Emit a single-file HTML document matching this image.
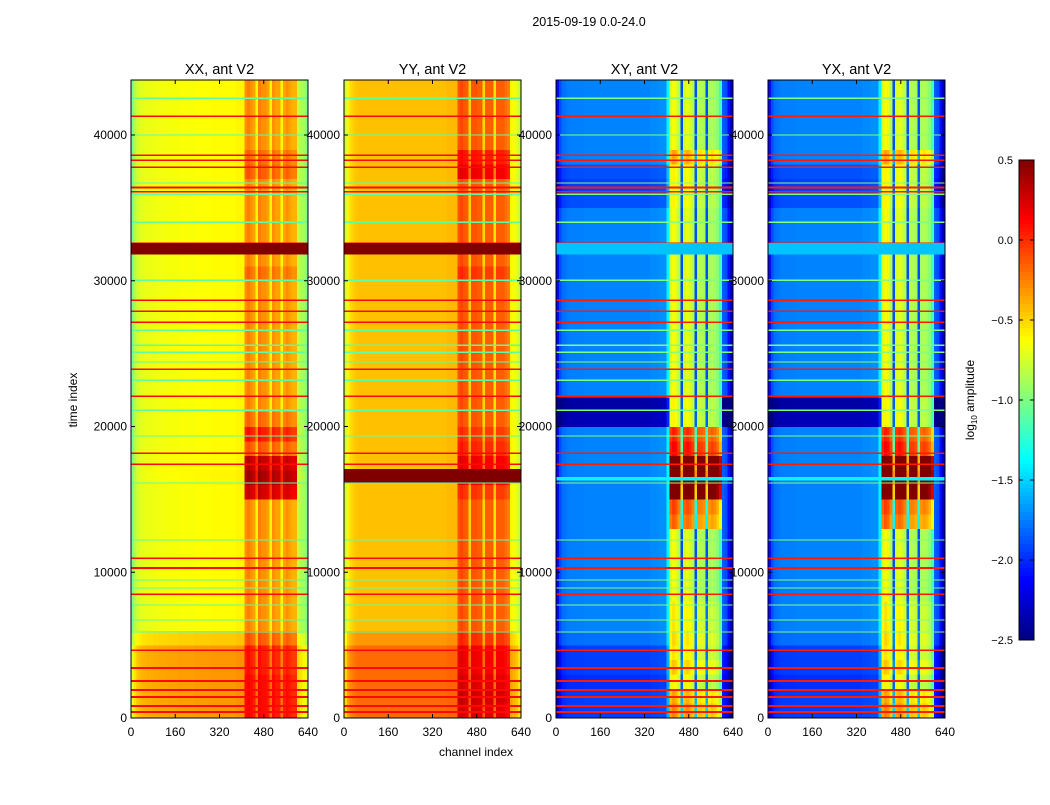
<!DOCTYPE html>
<html><head><meta charset="utf-8">
<style>
body{margin:0;background:#fff;}
svg text{font-family:"Liberation Sans","DejaVu Sans",sans-serif;fill:#000;}
</style></head>
<body>
<svg id="fig" width="1050" height="800" xmlns="http://www.w3.org/2000/svg">
<rect width="1050" height="800" fill="#fff"/>
<text x="589" y="26" font-size="12.5" text-anchor="middle">2015-09-19 0.0-24.0</text>
<text x="0" y="0" font-size="12" text-anchor="middle" transform="translate(77,400) rotate(-90)">time index</text>
<text x="476" y="756" font-size="12" text-anchor="middle">channel index</text>
<g id="panels"></g>
<g id="cbar"></g>
<text font-size="12" text-anchor="middle" transform="translate(974,400) rotate(-90)">log<tspan font-size="8" dy="3">10</tspan><tspan dy="-3"> amplitude</tspan></text>
</svg>
<script>
// ---- data (log10 amplitude) ----
const panelTitles = ["XX, ant V2","YY, ant V2","XY, ant V2","YX, ant V2"];
const xTicks = [0,160,320,480,640];
const yTicks = [0,10000,20000,30000,40000];
const cbTicks = [0.5,0.0,-0.5,-1.0,-1.5,-2.0,-2.5];
const cbLabels = ["0.5","0.0","\u22120.5","\u22121.0","\u22121.5","\u22122.0","\u22122.5"];
// channel profiles: 64 bins of 10 channels
const chanXX = [-1.0,-0.85,-0.75,-0.72,-0.7,-0.69,-0.68,-0.68,-0.67,-0.67,-0.66,-0.66,-0.66,-0.65,-0.65,-0.65,-0.65,-0.64,-0.64,-0.64,-0.64,-0.64,-0.64,-0.63,-0.63,-0.63,-0.63,-0.63,-0.63,-0.62,-0.62,-0.62,-0.62,-0.62,-0.62,-0.62,-0.62,-0.62,-0.6,-0.6,-0.6,-0.3,-0.25,-0.3,-0.35,-0.6,-0.25,-0.3,-0.3,-0.35,-0.6,-0.3,-0.35,-0.35,-0.62,-0.35,-0.3,-0.35,-0.4,-0.4,-0.8,-0.85,-0.9,-1.0];
const chanYY = [-0.75,-0.6,-0.52,-0.48,-0.45,-0.44,-0.44,-0.44,-0.44,-0.44,-0.44,-0.44,-0.44,-0.44,-0.44,-0.44,-0.44,-0.44,-0.44,-0.44,-0.44,-0.44,-0.44,-0.44,-0.44,-0.44,-0.44,-0.44,-0.44,-0.44,-0.44,-0.44,-0.44,-0.44,-0.44,-0.44,-0.44,-0.42,-0.42,-0.42,-0.42,-0.12,-0.08,-0.12,-0.15,-0.5,-0.12,-0.12,-0.15,-0.15,-0.5,-0.15,-0.15,-0.15,-0.55,-0.15,-0.15,-0.15,-0.2,-0.25,-0.6,-0.65,-0.7,-0.8];
const chanXY = [-2.1,-1.9,-1.8,-1.78,-1.76,-1.75,-1.75,-1.75,-1.75,-1.75,-1.74,-1.74,-1.74,-1.74,-1.74,-1.74,-1.74,-1.74,-1.74,-1.74,-1.74,-1.74,-1.74,-1.74,-1.74,-1.74,-1.74,-1.74,-1.74,-1.74,-1.74,-1.74,-1.74,-1.74,-1.72,-1.72,-1.72,-1.7,-1.7,-1.7,-1.4,-0.75,-0.65,-0.7,-0.85,-1.9,-0.75,-0.7,-0.75,-0.85,-1.9,-0.85,-0.85,-0.9,-1.9,-0.9,-0.85,-0.9,-1.0,-1.2,-1.85,-1.9,-2.1,-2.3];
const chanYX = [-2.1,-1.9,-1.8,-1.78,-1.76,-1.75,-1.75,-1.75,-1.75,-1.75,-1.74,-1.74,-1.74,-1.74,-1.74,-1.74,-1.74,-1.74,-1.74,-1.74,-1.74,-1.74,-1.74,-1.74,-1.74,-1.74,-1.74,-1.74,-1.74,-1.74,-1.74,-1.74,-1.74,-1.74,-1.72,-1.72,-1.72,-1.7,-1.7,-1.7,-1.4,-0.75,-0.65,-0.7,-0.85,-1.9,-0.75,-0.7,-0.75,-0.85,-1.9,-0.85,-0.85,-0.9,-1.9,-0.9,-0.85,-0.9,-1.0,-1.2,-1.85,-1.9,-2.1,-2.3];
// time offsets: 44 bins of 1000 samples
const timeXX = [0.3,0.3,0.3,0.3,0.3,0.15,0,0,0,0,0,0,0,0,0,0,0.02,0,0,0,0,0,0,0,0,0,0,0,0,0,0,0,0,0,0,0,0,0,0,0,0,0,0,0];
const timeYY = [0.25,0.25,0.25,0.25,0.25,0.12,0,0,0,0,0,0,0,0,0,0,0,0,0,0,0,0,0,0,0,0,0,0,0,0,0,0,0,0,0,0,0,0,0,0,0,0,0,0];
const timeXY = [-0.2,-0.2,-0.25,-0.2,-0.2,-0.05,0,0,0,0,0,0,0,0,0,0,0,0,0,0,-0.6,-0.65,0,0,0,0,0,0,0,0,0,0,0,0,0,-0.15,-0.2,-0.15,0,0,0,0,0,0];
const timeYX = [-0.2,-0.2,-0.25,-0.2,-0.2,-0.05,0,0,0,0,0,0,0,0,0,0,0,0,0,0,-0.6,-0.65,0,0,0,0,0,0,0,0,0,0,0,0,0,-0.15,-0.2,-0.15,0,0,0,0,0,0];
// extra boost only in RFI channel region (410-600)
const rfiXX = [0.1,0.1,0.1,0.05,0.05,0,0,0,0,0,0,0,0,0,0,0.55,0.65,0.6,0.15,0.35,0.1,0,0,0,0,0,0,0,0,0,0.1,0,0,0,0,0,0,0.15,0.1,0,0,0,0,0];
const rfiYY = [0.1,0.15,0.1,0.05,0.05,0,0,0,0,0,0,0,0,0,0,0.1,0.3,0.3,0.15,0.1,0,0,0,0,0,0,0,0,0,0,0.1,0,0,0,0,0,0,0.3,0.2,0,0,0,0,0];
const rfiXY = [0.6,0.5,0.3,0.4,0.3,0.2,0.1,0.1,0,0,0,0,0,0.5,0.6,1.4,1.6,1.5,0.8,0.7,0.65,0.7,0,0,0,0,0,0,0,0,0,0,0,0,0,0.2,0.25,0.2,0.3,0,0,0,0,0];
const rfiYX = [0.6,0.5,0.3,0.4,0.3,0.2,0.1,0.1,0,0,0,0,0,0.5,0.6,1.4,1.6,1.5,0.8,0.7,0.65,0.7,0,0,0,0,0,0,0,0,0,0,0,0,0,0.2,0.25,0.2,0.3,0,0,0,0,0];
// narrow full-width flagged lines (time index)
const redLines = [410,820,1440,1920,2540,3430,4660,8500,10290,10970,17420,18170,22080,23940,27160,27900,28670,32580,36100,36400,37800,38270,38600,41290];
const cyanLines = [1900,5900,6720,7750,8920,9460,12210,16120,19340,21120,23180,24420,25100,25580,26600,30040,34020,35940,36700,40000,42520];
const bandXX = [[31800,32600,0.5]];
const bandYY = [[31800,32600,0.5],[16150,17100,0.5]];
const bandXY = [[31800,32600,-1.55],[16300,16550,-1.4]];
const bandYX = [[31800,32600,-1.55],[16300,16550,-1.4]];

const chans=[chanXX,chanYY,chanXY,chanYX], times=[timeXX,timeYY,timeXY,timeYX],
      rfis=[rfiXX,rfiYY,rfiXY,rfiYX], bands=[bandXX,bandYY,bandXY,bandYX];
const redVal=[0.1,0.1,0.05,0.05], cyanVal=[-1.1,-1.1,-1.0,-1.0];

const panelX=[131,344,556,768], pw=177, yTop=80, yBot=718;
const tScale=583/40000;
const NS="http://www.w3.org/2000/svg";
function jet(v){
  let f=(v+2.5)/3; f=Math.max(0,Math.min(1,f));
  const c=x=>Math.round(255*Math.max(0,Math.min(1,x)));
  const r=Math.min(4*f-1.5,-4*f+4.5), g=Math.min(4*f-0.5,-4*f+3.5), b=Math.min(4*f+0.5,-4*f+2.5);
  return `rgb(${c(r)},${c(g)},${c(b)})`;
}
function mk(tag,attrs,parent){const e=document.createElementNS(NS,tag);for(const k in attrs)e.setAttribute(k,attrs[k]);parent.appendChild(e);return e;}
const root=document.getElementById('panels');
panelTitles.forEach((title,p)=>{
  const x0=panelX[p];
  const xs=ch=>x0+ch/640*pw, ys=t=>yBot-t*tScale;
  const g=mk('g',{},root);
  
  
  const cp=mk('clipPath',{id:'cp'+p},g);
  mk('rect',{x:x0,y:yTop,width:pw,height:yBot-yTop},cp);
  const hm=mk('g',{'clip-path':`url(#cp${p})`,'shape-rendering':'crispEdges'},g);
  
  
  const ch=chans[p], tm=times[p], rf=rfis[p];
  for(let t=0;t<tm.length;t++){
    for(let c=0;c<ch.length;c++){
      const rfi=(c>=41&&c<60)?rf[t]:0;
      const v=ch[c]+tm[t]+rfi;
      const r=mk('rect',{x:xs(c*10),y:ys((t+1)*1000),width:xs(c*10+10)-xs(c*10)+0.3,height:ys(t*1000)-ys((t+1)*1000)+0.3,fill:jet(v)},hm);
      
      
    }
  }
  cyanLines.forEach(t=>{const r=mk('rect',{x:x0,y:ys(t)-0.6,width:pw,height:1.2,fill:jet(cyanVal[p])},hm);
    
    });
  redLines.forEach(t=>{const r=mk('rect',{x:x0,y:ys(t)-0.8,width:pw,height:1.6,fill:jet(redVal[p])},hm);
    
    });
  bands[p].forEach(b=>{const r=mk('rect',{x:x0,y:ys(b[1]),width:pw,height:ys(b[0])-ys(b[1]),fill:jet(b[2])},hm);
    
    });
  mk('rect',{x:x0,y:yTop,width:pw,height:yBot-yTop,fill:'none',stroke:'#000','stroke-width':1},g);
  const tt=mk('text',{x:x0+pw/2,y:74,'font-size':14.5,'text-anchor':'middle'},g);tt.textContent=title;
  
  
  xTicks.forEach(v=>{const x=xs(v);
    mk('line',{x1:x,x2:x,y1:yBot,y2:yBot-4,stroke:'#000'},g);mk('line',{x1:x,x2:x,y1:yTop,y2:yTop+4,stroke:'#000'},g);
    const l=mk('text',{x:x,y:736,'font-size':12,'text-anchor':'middle'},g);l.textContent=v;
    
    });
  yTicks.forEach(v=>{const y=ys(v);
    mk('line',{x1:x0,x2:x0+4,y1:y,y2:y,stroke:'#000'},g);mk('line',{x1:x0+pw,x2:x0+pw-4,y1:y,y2:y,stroke:'#000'},g);
    const l=mk('text',{x:x0-4,y:y+4,'font-size':12,'text-anchor':'end'},g);l.textContent=v;
    
    });
});
// colorbar
const cb=document.getElementById('cbar');
const cbY=v=>160+(0.5-v)/3*480;
for(let i=0;i<120;i++){const v0=0.5-i*0.025;
  mk('rect',{x:1019,y:cbY(v0),width:15,height:4.3,fill:jet(v0-0.0125),'shape-rendering':'crispEdges'},cb);}
mk('rect',{x:1019,y:160,width:15,height:480,fill:'none',stroke:'#000'},cb);
cbTicks.forEach((v,i)=>{const y=cbY(v);
  mk('line',{x1:1019,x2:1023,y1:y,y2:y,stroke:'#000'},cb);mk('line',{x1:1034,x2:1030,y1:y,y2:y,stroke:'#000'},cb);
  const l=mk('text',{x:1013,y:y+4,'font-size':11,'text-anchor':'end'},cb);l.textContent=cbLabels[i];
  
  });
</script>
</body></html>
